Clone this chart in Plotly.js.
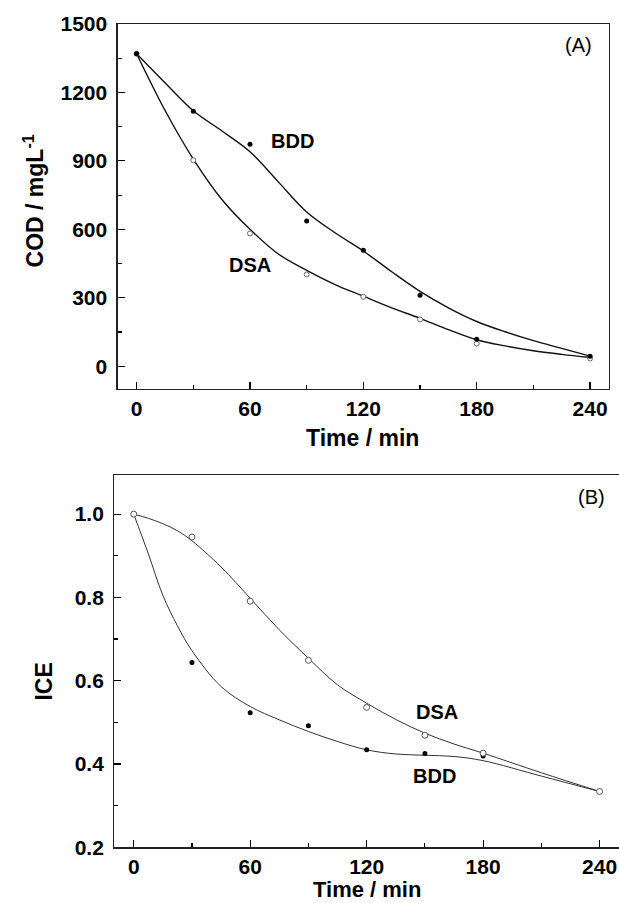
<!DOCTYPE html>
<html>
<head>
<meta charset="utf-8">
<script src="https://cdn.plot.ly/plotly-3.0.1.min.js"></script>
<style>html,body{margin:0;padding:0;background:#fff;}#chart{width:619px;height:903px;}</style>
</head>
<body>
<div id="chart"></div>
<script>
// ---- Panel A: COD (mg/L) vs time (min) ----
var timePoints = [0, 30, 60, 90, 120, 150, 180, 240];
var codBDD = [1370, 1118, 973, 636, 508, 311, 118, 44];
var codDSA = [1370, 903, 582, 402, 304, 205, 99, 34];

// fitted curves
var curveTime = [0, 15, 30, 45, 60, 75, 90, 105, 120, 135, 150, 165, 180, 195, 210, 225, 240];
var codBDDFit = [1370, 1243, 1120, 1032, 940, 808, 676, 585, 505, 414, 328, 256, 196, 151, 112, 78, 44];
var codDSAFit = [1370, 1122, 908, 732, 600, 492, 420, 358, 307, 256, 210, 160, 116, 89, 68, 52, 38];

// ---- Panel B: ICE vs time (min) ----
var iceBDD = [1.0, 0.644, 0.523, 0.492, 0.434, 0.425, 0.419, 0.334];
var iceDSA = [1.0, 0.945, 0.791, 0.649, 0.536, 0.469, 0.426, 0.334];

var curveTimeB = [0, 7.5, 15, 22.5, 30, 45, 60, 75, 90, 105, 120, 135, 150, 165, 180, 210, 240];
var iceBDDFit = [1.0, 0.905, 0.805, 0.732, 0.672, 0.586, 0.538, 0.506, 0.478, 0.454, 0.434, 0.424, 0.421, 0.418, 0.408, 0.371, 0.334];
var iceDSAFit = [1.0, 0.99, 0.977, 0.96, 0.936, 0.873, 0.798, 0.722, 0.654, 0.590, 0.546, 0.507, 0.474, 0.448, 0.426, 0.379, 0.334];

var xTicks = [0, 60, 120, 180, 240];
var yTicksB = [0.2, 0.4, 0.6, 0.8, 1.0];
var yTickTextB = ['0.2', '0.4', '0.6', '0.8', '1.0'];

var FONT = 'Liberation Sans, Arial, Helvetica, sans-serif';
var tickFont = {family: FONT, size: 21, color: '#000', weight: 'bold'};

var traces = [
  {x: curveTime, y: codBDDFit, mode: 'lines', line: {shape: 'spline', smoothing: 1, color: '#111', width: 1.4}, xaxis: 'x', yaxis: 'y', hoverinfo: 'skip', name: 'BDD fit'},
  {x: curveTime, y: codDSAFit, mode: 'lines', line: {shape: 'spline', smoothing: 1, color: '#111', width: 1.4}, xaxis: 'x', yaxis: 'y', hoverinfo: 'skip', name: 'DSA fit'},
  {x: timePoints, y: codDSA, mode: 'markers', marker: {symbol: 'circle', size: 5, color: '#fff', line: {width: 1, color: '#666'}}, xaxis: 'x', yaxis: 'y', name: 'DSA'},
  {x: timePoints, y: codBDD, mode: 'markers', marker: {symbol: 'circle', size: 5, color: '#000'}, xaxis: 'x', yaxis: 'y', name: 'BDD'},

  {x: curveTimeB, y: iceBDDFit, mode: 'lines', line: {shape: 'spline', smoothing: 1, color: '#333', width: 1}, xaxis: 'x2', yaxis: 'y2', hoverinfo: 'skip', name: 'BDD fit'},
  {x: curveTimeB, y: iceDSAFit, mode: 'lines', line: {shape: 'spline', smoothing: 1, color: '#333', width: 1}, xaxis: 'x2', yaxis: 'y2', hoverinfo: 'skip', name: 'DSA fit'},
  {x: timePoints, y: iceBDD, mode: 'markers', marker: {symbol: 'circle', size: 5, color: '#000'}, xaxis: 'x2', yaxis: 'y2', name: 'BDD'},
  {x: timePoints, y: iceDSA, mode: 'markers', marker: {symbol: 'circle', size: 6, color: '#fff', line: {width: 1, color: '#555'}}, xaxis: 'x2', yaxis: 'y2', name: 'DSA'}
];

function xAxis(domain, anchor) {
  return {
    domain: domain, anchor: anchor, range: [-10, 250],
    tickmode: 'array', tickvals: xTicks, ticktext: xTicks.map(String),
    ticks: 'inside', ticklen: 7, tickwidth: 1.2, tickcolor: '#000',
    minor: {ticks: 'inside', tickmode: 'linear', tick0: 30, dtick: 60, ticklen: 4, tickwidth: 1.2, tickcolor: '#000', showgrid: false},
    showline: true, linecolor: '#222', linewidth: 1.3, mirror: true,
    showgrid: false, zeroline: false, tickfont: tickFont, ticklabelstandoff: 0
  };
}

var layout = {
  width: 619, height: 903,
  margin: {l: 0, r: 0, t: 0, b: 0},
  paper_bgcolor: '#fff', plot_bgcolor: '#fff',
  showlegend: false,
  xaxis: xAxis([0.1902, 0.9838], 'y'),
  yaxis: {
    domain: [0.5692, 0.9734], anchor: 'x', range: [-100, 1500],
    tickmode: 'linear', tick0: 0, dtick: 300,
    ticks: 'inside', ticklen: 7, tickwidth: 1.2, tickcolor: '#000',
    minor: {ticks: 'inside', tickmode: 'linear', tick0: 150, dtick: 300, ticklen: 4, tickwidth: 1.2, tickcolor: '#000', showgrid: false},
    showline: true, linecolor: '#222', linewidth: 1.3, mirror: true,
    showgrid: false, zeroline: false, tickfont: tickFont, ticklabelstandoff: 5
  },
  xaxis2: xAxis([0.1847, 1.0], 'y2'),
  yaxis2: {
    domain: [0.0617, 0.4740], anchor: 'x2', range: [0.2, 1.094],
    tickmode: 'array', tickvals: yTicksB, ticktext: yTickTextB,
    ticks: 'inside', ticklen: 7, tickwidth: 1.2, tickcolor: '#000',
    minor: {ticks: 'inside', tickmode: 'linear', tick0: 0.3, dtick: 0.2, ticklen: 4, tickwidth: 1.2, tickcolor: '#000', showgrid: false},
    showline: true, linecolor: '#222', linewidth: 1.3, mirror: false,
    showgrid: false, zeroline: false, tickfont: tickFont, ticklabelstandoff: 5
  },
  annotations: [
    {xref: 'paper', yref: 'paper', x: 0.0549, y: 0.778, text: '<b>COD / mgL<sup>-1</sup></b>', textangle: -90, showarrow: false, xanchor: 'center', yanchor: 'middle', font: {family: FONT, size: 23, color: '#000'}},
    {xref: 'paper', yref: 'paper', x: 0.586, y: 0.515, text: '<b>Time / min</b>', showarrow: false, xanchor: 'center', yanchor: 'middle', font: {family: FONT, size: 23, color: '#000'}},
    {xref: 'paper', yref: 'paper', x: 0.0719, y: 0.2447, text: '<b>ICE</b>', textangle: -90, showarrow: false, xanchor: 'center', yanchor: 'middle', font: {family: FONT, size: 23, color: '#000'}},
    {xref: 'paper', yref: 'paper', x: 0.593, y: 0.0, text: '<b>Time / min</b>', showarrow: false, xanchor: 'center', yanchor: 'bottom', borderpad: 0, font: {family: FONT, size: 22, color: '#000'}},

    {xref: 'x', yref: 'y', x: 82.6, y: 987, text: '<b>BDD</b>', showarrow: false, font: {family: FONT, size: 20, color: '#000'}},
    {xref: 'x', yref: 'y', x: 60.2, y: 444, text: '<b>DSA</b>', showarrow: false, font: {family: FONT, size: 20, color: '#000'}},
    {xref: 'x', yref: 'y', x: 234, y: 1406, text: '(A)', showarrow: false, font: {family: FONT, size: 20, color: '#000'}},
    {xref: 'x2', yref: 'y2', x: 156, y: 0.524, text: '<b>DSA</b>', showarrow: false, font: {family: FONT, size: 20, color: '#000'}},
    {xref: 'x2', yref: 'y2', x: 155, y: 0.372, text: '<b>BDD</b>', showarrow: false, font: {family: FONT, size: 20, color: '#000'}},
    {xref: 'x2', yref: 'y2', x: 236, y: 1.04, text: '(B)', showarrow: false, font: {family: FONT, size: 20, color: '#000'}}
  ]
};

Plotly.newPlot('chart', traces, layout, {staticPlot: true, displayModeBar: false});
</script>
</body>
</html>
